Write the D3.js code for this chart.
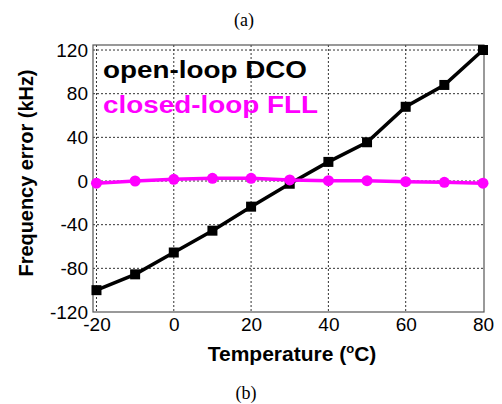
<!DOCTYPE html>
<html><head><meta charset="utf-8">
<script src="https://cdn.jsdelivr.net/npm/d3@7"></script>
<style>body{margin:0;background:#fff}svg{display:block}</style>
</head><body>
<svg id="c" width="502" height="404"></svg>
<script>
const temps = [-20,-10,0,10,20,30,40,50,60,70,80];
const openLoopDCO = [-100,-85.5,-65.5,-45.5,-23.5,-2.5,17.5,35.5,68,88,120];
const closedLoopFLL = [-2,0,1.5,2.5,2.5,1,0.3,0.3,-0.6,-1.2,-2];
const xTicks = [-20,0,20,40,60,80];
const yTicks = [-120,-80,-40,0,40,80,120];
const seriesNames = ["open-loop DCO","closed-loop FLL"];
const xTitle = "Temperature (";
const yTitle = "Frequency error (kHz)";

const svg = d3.select("#c");
const L=93,R=484,T=45,B=312;
const x = d3.scaleLinear().domain([-20.9,80.26]).range([L,R]);
const y = d3.scaleLinear().domain([-120,124.6]).range([B,T]);
const fmt = d => String(d);

// grid
const g = svg.append("g");
g.selectAll(".gx").data(xTicks.filter(d=>d<80)).enter().append("line")
 .attr("x1",d=>x(d)).attr("x2",d=>x(d)).attr("y1",T).attr("y2",B)
 .attr("stroke","#333").attr("stroke-width",1).attr("stroke-dasharray","2,2");
g.selectAll(".gy").data(yTicks.filter(d=>d>-120)).enter().append("line")
 .attr("y1",d=>y(d)).attr("y2",d=>y(d)).attr("x1",L).attr("x2",R)
 .attr("stroke","#333").attr("stroke-width",1).attr("stroke-dasharray","2,2");

// box
svg.append("rect").attr("x",L).attr("y",T).attr("width",R-L).attr("height",B-T)
 .attr("fill","none").attr("stroke","#555").attr("stroke-width",1.2);

// axes labels
const xa = svg.append("g").attr("transform",`translate(0,${B})`)
 .call(d3.axisBottom(x).tickValues(xTicks).tickSize(0).tickPadding(6).tickFormat(fmt));
xa.select(".domain").remove();
xa.selectAll("text").attr("font-family","Liberation Sans, Arial, sans-serif").attr("font-size",19).attr("fill","#000").attr("dy","0.71em");
const ya = svg.append("g").attr("transform",`translate(${L},0)`)
 .call(d3.axisLeft(y).tickValues(yTicks).tickSize(0).tickPadding(5).tickFormat(fmt));
ya.select(".domain").remove();
ya.selectAll("text").attr("font-family","Liberation Sans, Arial, sans-serif").attr("font-size",19).attr("fill","#000");

// lines
const line = vals => d3.line().x((d,i)=>x(temps[i])).y(d=>y(d))(vals);
svg.append("path").attr("d",line(openLoopDCO)).attr("fill","none").attr("stroke","#000").attr("stroke-width",3.5);
svg.selectAll(".sq").data(openLoopDCO).enter().append("rect")
 .attr("x",(d,i)=>x(temps[i])-5).attr("y",d=>y(d)-5).attr("width",10).attr("height",10).attr("fill","#000");
svg.append("path").attr("d",line(closedLoopFLL)).attr("fill","none").attr("stroke","#ff00ff").attr("stroke-width",3.5);
svg.selectAll(".ci").data(closedLoopFLL).enter().append("circle")
 .attr("cx",(d,i)=>x(temps[i])).attr("cy",d=>y(d)).attr("r",5.5).attr("fill","#ff00ff");

// legend text
svg.append("text").attr("x",103).attr("y",78).text(seriesNames[0])
 .attr("font-family","Liberation Sans, Arial, sans-serif").attr("font-weight","bold").attr("font-size",23)
 .attr("textLength",204).attr("lengthAdjust","spacingAndGlyphs").attr("fill","#000");
svg.append("text").attr("x",103).attr("y",113).text(seriesNames[1])
 .attr("font-family","Liberation Sans, Arial, sans-serif").attr("font-weight","bold").attr("font-size",23)
 .attr("textLength",215).attr("lengthAdjust","spacingAndGlyphs").attr("fill","#ff00ff");

// axis titles
const xt = svg.append("text").attr("x",292).attr("y",361).attr("text-anchor","middle")
 .attr("font-family","Liberation Sans, Arial, sans-serif").attr("font-weight","bold").attr("font-size",21).attr("fill","#000");
xt.append("tspan").text(xTitle);
xt.append("tspan").text("o").attr("font-size",13).attr("dy",-8);
xt.append("tspan").text("C)").attr("dy",8);
svg.append("text").attr("transform","translate(33,173) rotate(-90)").attr("text-anchor","middle")
 .attr("font-family","Liberation Sans, Arial, sans-serif").attr("font-weight","bold").attr("font-size",21).attr("fill","#000")
 .attr("textLength",207).attr("lengthAdjust","spacingAndGlyphs")
 .text(yTitle);

// captions
svg.append("text").attr("x",244).attr("y",26).attr("text-anchor","middle")
 .attr("font-family","Liberation Serif, Times New Roman, serif").attr("font-size",18).text("(a)");
svg.append("text").attr("x",246).attr("y",399).attr("text-anchor","middle")
 .attr("font-family","Liberation Serif, Times New Roman, serif").attr("font-size",18).text("(b)");
</script>
</body></html>
